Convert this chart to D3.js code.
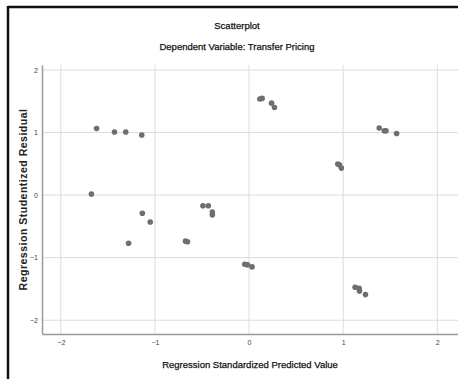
<!DOCTYPE html>
<html>
<head>
<meta charset="utf-8">
<script src="https://cdn.jsdelivr.net/npm/d3@7"></script>
<style>
  body { margin: 0; background: #fff; }
  svg { display: block; font-family: "Liberation Sans", Arial, sans-serif; }
</style>
</head>
<body>
<div id="vis-holder"></div>
<script>
// Data
const predicted = [-1.62, -1.43, -1.31, -1.14, -1.675, -1.134, -1.05, -1.28,
  0.114, 0.139, 0.239, 0.27, -0.49, -0.433, -0.39, -0.39,
  -0.675, -0.654, -0.046, -0.017, 0.032,
  1.383, 1.437, 1.455, 1.568, 0.943, 0.96, 0.981,
  1.127, 1.17, 1.173, 1.237];
const residual = [1.066, 1.01, 1.01, 0.96, 0.016, -0.29, -0.43, -0.77,
  1.536, 1.546, 1.47, 1.40, -0.171, -0.171, -0.27, -0.315,
  -0.736, -0.747, -1.104, -1.115, -1.147,
  1.072, 1.03, 1.03, 0.986, 0.496, 0.485, 0.432,
  -1.472, -1.488, -1.531, -1.59];
const xTicks = [-2, -1, 0, 1, 2];
const yTicks = [-2, -1, 0, 1, 2];

const width = 458;
const height = 379;
const margin = { top: 65, right: 0, bottom: 45, left: 42 };

const svg = d3.select("#vis-holder")
              .append("svg")
              .attr("width", width)
              .attr("height", height);

// frame (only top and left are visible in the crop)
svg.append("line")
   .attr("x1", 8).attr("x2", width).attr("y1", 7).attr("y2", 7)
   .attr("stroke", "#111").attr("stroke-width", 2.5);
svg.append("line")
   .attr("x1", 8).attr("x2", 8).attr("y1", 6).attr("y2", height)
   .attr("stroke", "#111").attr("stroke-width", 2.5);

// scales
const x = d3.scaleLinear()
            .domain([-2.2, 2.22])
            .range([margin.left, width - margin.right]);
const y = d3.scaleLinear()
            .domain([-2.22, 2.08])
            .range([height - margin.bottom, margin.top]);

// grid lines
svg.append("g")
   .selectAll("line")
   .data(xTicks)
   .enter()
     .append("line")
     .attr("x1", (d) => x(d)).attr("x2", (d) => x(d))
     .attr("y1", margin.top).attr("y2", height - margin.bottom)
     .attr("stroke", "#dcdcdc").attr("stroke-width", 1);
svg.append("g")
   .selectAll("line")
   .data(yTicks)
   .enter()
     .append("line")
     .attr("x1", margin.left).attr("x2", width - margin.right)
     .attr("y1", (d) => y(d)).attr("y2", (d) => y(d))
     .attr("stroke", "#dcdcdc").attr("stroke-width", 1);

// x axis
const gx = svg.append("g")
   .attr("transform", `translate(0,${height - margin.bottom})`)
   .call(d3.axisBottom(x).tickValues(xTicks).tickSize(0).tickPadding(6).tickFormat(d3.format("d")));
gx.select(".domain").attr("stroke", "#9a9a9a").attr("stroke-width", 1.5);
gx.selectAll("text").attr("font-size", "7px").attr("fill", "#444")
  .attr("font-family", "Liberation Sans, Arial, sans-serif");

// y axis
const gy = svg.append("g")
   .attr("transform", `translate(${margin.left},0)`)
   .call(d3.axisLeft(y).tickValues(yTicks).tickSize(0).tickPadding(4).tickFormat(d3.format("d")));
gy.select(".domain").attr("stroke", "#9a9a9a").attr("stroke-width", 1.5);
gy.selectAll("text").attr("font-size", "7px").attr("fill", "#444")
  .attr("font-family", "Liberation Sans, Arial, sans-serif");

// points
svg.append("g")
   .selectAll("circle")
   .data(predicted)
   .enter()
     .append("circle")
     .attr("cx", (d) => x(d))
     .attr("cy", (d, i) => y(residual[i]))
     .attr("r", 2.8)
     .style("fill", "#6e6e6e");

// titles (slight stroke to get the heavier look of the original)
function heavy(t) {
  return t.attr("fill", "#111").attr("stroke", "#111").attr("stroke-width", 0.25);
}
heavy(svg.append("text")
   .attr("x", 237).attr("y", 29)
   .attr("text-anchor", "middle")
   .attr("font-size", "9.5px")
   .text("Scatterplot"));
heavy(svg.append("text")
   .attr("x", 237).attr("y", 50)
   .attr("text-anchor", "middle")
   .attr("font-size", "9.5px")
   .text("Dependent Variable: Transfer Pricing"));

// axis titles
heavy(svg.append("text")
   .attr("x", 250).attr("y", 368)
   .attr("text-anchor", "middle")
   .attr("font-size", "9.5px")
   .text("Regression Standardized Predicted Value"));
svg.append("text")
   .attr("transform", `translate(27,${(margin.top + height - margin.bottom) / 2}) rotate(-90)`)
   .attr("text-anchor", "middle")
   .attr("font-size", "10.5px").attr("font-weight", "bold").attr("fill", "#222")
   .attr("letter-spacing", "0.5px")
   .text("Regression Studentized Residual");
</script>
</body>
</html>
